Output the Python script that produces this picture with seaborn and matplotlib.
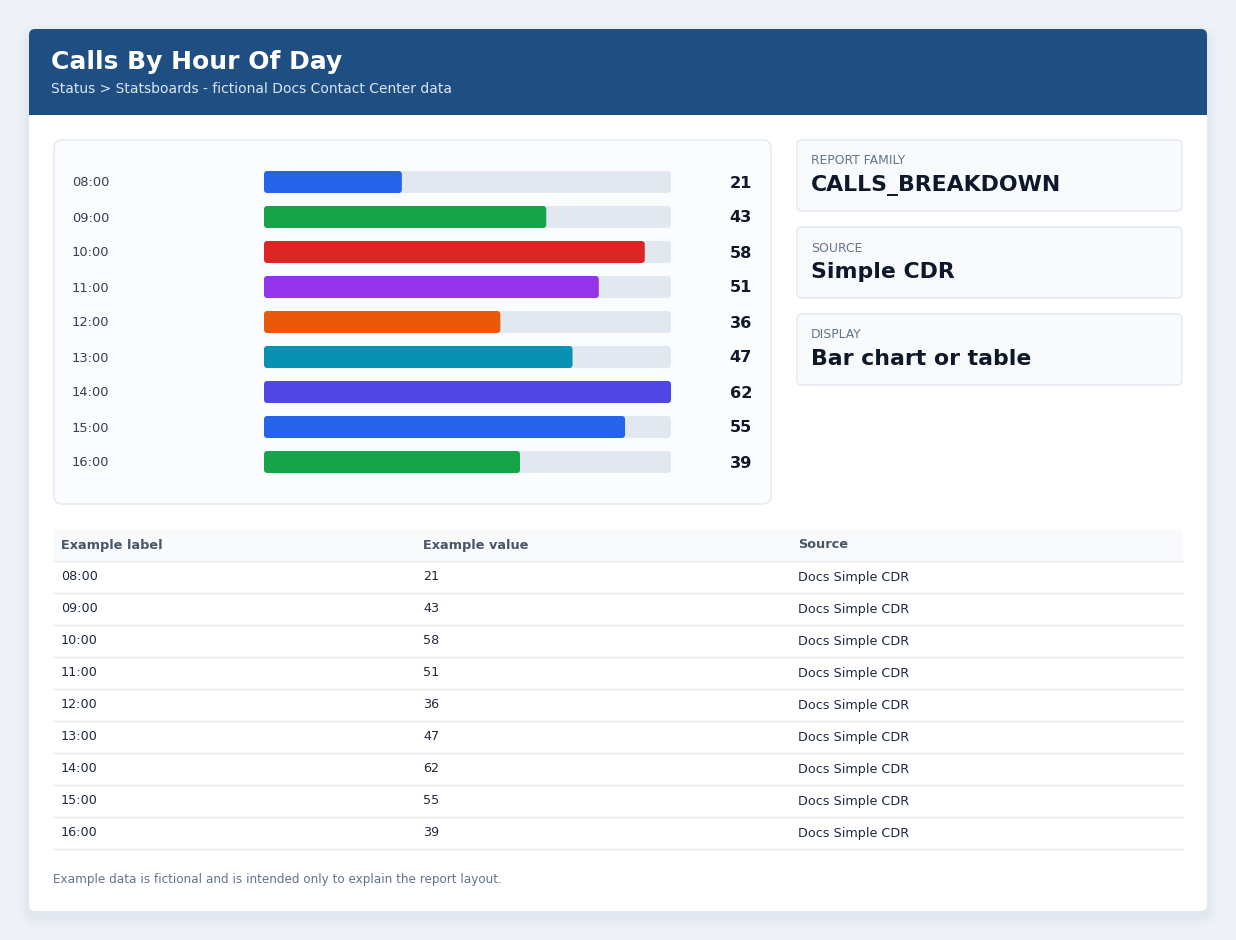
import numpy as np
import pandas as pd
import matplotlib
matplotlib.use("Agg")
import matplotlib.pyplot as plt
import seaborn as sns
from matplotlib.patches import FancyBboxPatch, Rectangle

# chart data
hours = ["08:00", "09:00", "10:00", "11:00", "12:00", "13:00", "14:00", "15:00", "16:00"]
calls = [21, 43, 58, 51, 36, 47, 62, 55, 39]
bar_colors = ["#2563eb", "#16a34a", "#dc2626", "#9333ea", "#ea580c",
              "#0891b2", "#4f46e5", "#2563eb", "#16a34a"]
source_name = "Docs Simple CDR"

title = "Calls By Hour Of Day"
subtitle = "Status > Statsboards - fictional Docs Contact Center data"
info_labels = ["REPORT FAMILY", "SOURCE", "DISPLAY"]
info_values = ["CALLS_BREAKDOWN", "Simple CDR", "Bar chart or table"]
table_cols = ["Example label", "Example value", "Source"]
footnote = "Example data is fictional and is intended only to explain the report layout."

sns.set_theme(style="white")
plt.rcParams["font.family"] = ["DejaVu Sans"]

W, H = 1236, 940
fig = plt.figure(figsize=(W / 100, H / 100), dpi=100)
fig.patch.set_facecolor("#eef2f7")

# background axes in pixel coordinates
bg = fig.add_axes([0, 0, 1, 1])
bg.set_xlim(0, W)
bg.set_ylim(H, 0)
bg.axis("off")
bg.set_zorder(0)


def rbox(ax, x0, y0, x1, y1, r, fc, ec="none", lw=0, z=1, alpha=1.0):
    p = FancyBboxPatch((x0 + r, y0 + r), (x1 - x0) - 2 * r, (y1 - y0) - 2 * r,
                       boxstyle=f"round,pad={r},rounding_size={r}",
                       fc=fc, ec=ec, lw=lw, zorder=z, alpha=alpha)
    ax.add_patch(p)
    return p


# shadow + card
for i, a in enumerate([0.025, 0.025, 0.03, 0.03]):
    g = 10 - i * 2.5
    rbox(bg, 29 - g, 29 - g + 6, 1207 + g, 911 + g + 6, 8 + g, "#94a3b8", z=0.5, alpha=a)
rbox(bg, 29, 29, 1207, 911, 6, "white", z=1)

# header
rbox(bg, 29, 29, 1207, 115, 6, "#1f4e82", z=2)
bg.add_patch(Rectangle((29, 100), 1178, 15, fc="#1f4e82", ec="none", zorder=2))
bg.text(51, 62, title, fontsize=18, fontweight="bold", color="white", va="center", zorder=3)
bg.text(51, 89, subtitle, fontsize=10, color="#dbe6f5", va="center", zorder=3)

# chart panel
rbox(bg, 54, 140, 771, 504, 8, "#fbfcfe", ec="#e2e8f0", lw=1, z=2)

# info cards
card_tops = [140, 227, 314]
for top, lab, val in zip(card_tops, info_labels, info_values):
    rbox(bg, 797, top, 1182, top + 71, 5, "#f8fafc", ec="#e2e8f0", lw=1, z=2)
    bg.text(811, top + 21, lab, fontsize=8.9, color="#64748b", va="center", zorder=3)
    bg.text(811, top + 45, val, fontsize=15.8, fontweight="bold", color="#0f172a", va="center", zorder=3)

# bar chart axes
x0, x1 = 264, 671
row_h = 35
y_top = 182 - row_h / 2
ax = fig.add_axes([x0 / W, 1 - (y_top + row_h * len(hours)) / H, (x1 - x0) / W, row_h * len(hours) / H])
ax.set_zorder(1)
ax.patch.set_alpha(0)

df = pd.DataFrame({"hour": hours, "calls": calls})
vmax = max(calls)
df["track"] = vmax

sns.barplot(data=df, y="hour", x="track", color="#e2e8f0", saturation=1,
            width=22 / row_h, ax=ax, orient="h")
sns.barplot(data=df, y="hour", x="calls", hue="hour", palette=bar_colors, legend=False,
            saturation=1, width=22 / row_h, ax=ax, orient="h")
ax.set_xlim(0, vmax)
ax.set_ylim(len(hours) - 0.5, -0.5)
ax.axis("off")

fig.canvas.draw()
n = len(hours)
patches = list(ax.patches)
for k, p in enumerate(patches):
    bb = p.get_window_extent()
    px0, px1 = bb.x0, bb.x1
    py0, py1 = H - bb.y1, H - bb.y0
    fc = p.get_facecolor()
    p.set_visible(False)
    if px1 - px0 > 1:
        rbox(bg, px0, py0, px1, py1, 3.5, fc, z=3 + (k >= n))

for i, (h, v) in enumerate(zip(hours, calls)):
    yc = 182 + i * row_h
    bg.text(72, yc + 1, h, fontsize=9.4, color="#334155", va="center", zorder=5)
    bg.text(752, yc + 1, str(v), fontsize=11.6, fontweight="bold", color="#0f172a",
            va="center", ha="right", zorder=5)

# table
col_x = [61, 423, 798]
bg.add_patch(Rectangle((53, 529), 1130, 31, fc="#f8fafc", ec="none", zorder=2))
bg.plot([53, 1183], [560.5, 560.5], color="#e2e8f0", lw=1, zorder=3)
for cx, c in zip(col_x, table_cols):
    bg.text(cx, 545, c, fontsize=9.3, fontweight="bold", color="#475569", va="center", zorder=3)
for i, (h, v) in enumerate(zip(hours, calls)):
    yc = 576 + i * 32
    bg.text(col_x[0], yc + 1, h, fontsize=9.2, color="#1e293b", va="center", zorder=3)
    bg.text(col_x[1], yc + 1, str(v), fontsize=9.2, color="#1e293b", va="center", zorder=3)
    bg.text(col_x[2], yc + 1, source_name, fontsize=9.2, color="#1e293b", va="center", zorder=3)
    bg.plot([53, 1183], [yc + 16.5, yc + 16.5], color="#e2e8f0", lw=1, zorder=3)

bg.text(53, 880, footnote, fontsize=8.65, color="#64748b", va="center", zorder=3)

fig.savefig("out.png", dpi=100, facecolor=fig.get_facecolor())
